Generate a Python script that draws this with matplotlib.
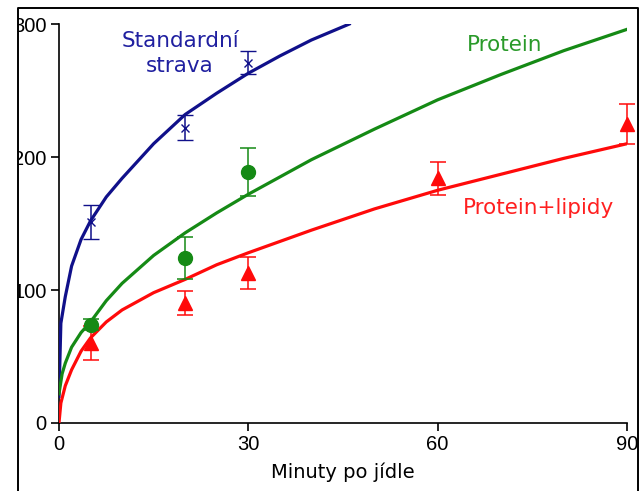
import numpy as np
import matplotlib
matplotlib.use("Agg")
import matplotlib.pyplot as plt
from matplotlib.lines import Line2D
from matplotlib.patches import Rectangle

plt.rcParams['font.family'] = ['Liberation Sans', 'DejaVu Sans']

# measured points (minutes after meal)
std_t = [5, 20, 30]
std_y = [151, 222, 271]
std_err = [13, 9.5, 8.5]

prot_t = [5, 20, 30]
prot_y = [74, 124, 189]
prot_err = [4, 16, 18]

lip_t = [5, 20, 30, 60, 90]
lip_y = [60, 90, 113, 184, 225]
lip_err = [13, 9, 12, 12.5, 15]

# fitted curves
std_cx = [0, 0.3, 1, 2, 3.5, 5, 7.5, 10, 15, 20, 25, 30, 35, 40, 46]
std_cy = [20, 75, 95, 118, 138, 152, 170, 184, 210, 232, 248, 263, 276, 288, 300]

prot_cx = [0, 0.5, 1, 2, 3.5, 5, 7.5, 10, 15, 20, 25, 30, 40, 50, 60, 70, 80, 90]
prot_cy = [22, 37, 45, 57, 68, 76, 92, 105, 126, 143, 158, 172, 198, 221, 243, 262, 280, 296]

lip_cx = [0, 0.3, 1, 2, 3.5, 5, 7.5, 10, 15, 20, 25, 30, 40, 50, 60, 70, 80, 90]
lip_cy = [0, 15, 28, 40, 54, 64, 76, 85, 98, 108, 119, 128, 145, 161, 175, 187, 199, 210]

blue = '#10108a'
green = '#158a15'
red = '#ff0a0a'

fig = plt.figure(figsize=(6.41, 4.91), dpi=100)
ax = fig.add_axes([0.092, 0.1385, 0.886, 0.8125])

ax.plot(std_cx, std_cy, color=blue, lw=2.3, zorder=3)
ax.plot(prot_cx, prot_cy, color=green, lw=2.3, zorder=3)
ax.plot(lip_cx, lip_cy, color=red, lw=2.3, zorder=3)

ax.errorbar(std_t, std_y, yerr=std_err, fmt='x', color=blue, ms=6, mew=1,
            elinewidth=1.1, capsize=6, capthick=1.1, clip_on=False, zorder=4)
ax.errorbar(prot_t, prot_y, yerr=prot_err, fmt='o', color=green, ms=10,
            elinewidth=1.1, capsize=6, capthick=1.1, clip_on=False, zorder=4)
ax.errorbar(lip_t, lip_y, yerr=lip_err, fmt='^', color=red, ms=10,
            elinewidth=1.1, capsize=6, capthick=1.1, clip_on=False, zorder=4)

ax.set_xlim(0, 90)
ax.set_ylim(0, 300)
ax.set_xticks([0, 30, 60, 90])
ax.set_yticks([0, 100, 200, 300])
for s in ['top', 'right']:
    ax.spines[s].set_visible(False)
for s in ['left', 'bottom']:
    ax.spines[s].set_linewidth(1.2)
ax.tick_params(direction='out', length=6, width=1.2, labelsize=14.5, pad=3)
ax.set_xlabel('Minuty po jídle', fontsize=14, family='DejaVu Sans', labelpad=6)

lab = dict(fontsize=15.5, family='DejaVu Sans', ha='center', va='center')
ax.text(19.2, 278, 'Standardní\nstrava', color='#2020a0', linespacing=1.35, **lab)
ax.text(70.6, 284, 'Protein', color='#2a9a2a', **lab)
ax.text(76, 162, 'Protein+lipidy', color='#ff2020', **lab)

# outer frame, clipping the left tick labels like the original
W, H = 641, 491
fig.add_artist(Rectangle((0, 0), 18 / W, 1, transform=fig.transFigure,
                         facecolor='white', edgecolor='none', zorder=5))
fig.add_artist(Line2D([18 / W, 18 / W, 638 / W, 638 / W], [0, 1 - 8 / H, 1 - 8 / H, 0],
                      transform=fig.transFigure, color='black', lw=1.4, zorder=6))

fig.savefig('out.png', dpi=100)
